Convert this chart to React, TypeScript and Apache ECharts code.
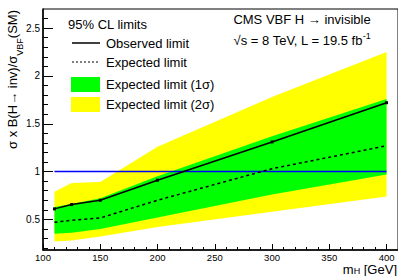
import React, { useEffect, useRef } from 'react';
import * as echarts from 'echarts';

const masses = [110, 125, 150, 200, 300, 400];
const observed = [0.61, 0.655, 0.7, 0.91, 1.31, 1.72];
const expected = [0.47, 0.49, 0.515, 0.7, 1.03, 1.27];
const band1Low = [0.35, 0.36, 0.4, 0.52, 0.76, 0.97];
const band1High = [0.63, 0.66, 0.72, 0.95, 1.37, 1.76];
const band2Low = [0.27, 0.28, 0.32, 0.42, 0.58, 0.74];
const band2High = [0.79, 0.88, 0.89, 1.26, 1.78, 2.25];
const refX = [110, 400];
const refY = [1, 1];

const xMajorTicks = [100, 150, 200, 250, 300, 350, 400];
const xMinorTicks = [110, 120, 130, 140, 160, 170, 180, 190, 210, 220, 230, 240, 260, 270, 280, 290, 310, 320, 330, 340, 360, 370, 380, 390, 410];
const yMajorTicks = [0.5, 1, 1.5, 2, 2.5];
const yMinorTicks = [0.2, 0.3, 0.4, 0.6, 0.7, 0.8, 0.9, 1.1, 1.2, 1.3, 1.4, 1.6, 1.7, 1.8, 1.9, 2.1, 2.2, 2.3, 2.4, 2.6];

const FONT = '"Liberation Sans", Arial, sans-serif';

const pairs = (xs: number[], ys: number[]) => xs.map((x, i) => [x, ys[i]]);

const bandSeries = (name: string, lo: number[], hi: number[], color: string) => ({
  name,
  type: 'custom',
  data: masses.map((m, i) => [m, lo[i], hi[i]]),
  encode: { x: 0, y: [1, 2] },
  silent: true,
  renderItem: (params: any, api: any) => {
    if (params.dataIndex !== 0) return null;
    const top = masses.map((m, i) => api.coord([m, hi[i]]));
    const bot = masses.map((m, i) => api.coord([m, lo[i]])).reverse();
    return {
      type: 'polygon',
      shape: { points: top.concat(bot) },
      style: { fill: color, stroke: 'none' },
    };
  },
});

export default function App() {
  const ref = useRef<HTMLDivElement>(null);
  useEffect(() => {
    document.body.style.margin = '0';
    const chart = echarts.init(ref.current!, null, { renderer: 'svg' });
    chart.setOption({
      animation: false,
      textStyle: { fontFamily: FONT },
      grid: {
        left: 43,
        top: 9,
        width: 356,
        height: 241,
        show: true,
        borderColor: '#000',
        borderWidth: 1,
        backgroundColor: 'transparent',
      },
      xAxis: [
        {
          type: 'value',
          min: 100,
          max: 410,
          interval: 50,
          axisLine: { show: true, onZero: false, lineStyle: { color: '#000', width: 1.5 } },
          axisTick: { show: true, inside: true, length: 6, customValues: xMajorTicks, lineStyle: { color: '#000', width: 1 } },
          axisLabel: { customValues: xMajorTicks, color: '#000', fontSize: 9.5, fontFamily: FONT, margin: 2, lineHeight: 10 },
          splitLine: { show: false },
        },
        {
          type: 'value',
          min: 100,
          max: 410,
          position: 'bottom',
          axisLine: { show: false },
          axisTick: { show: true, inside: true, length: 3, customValues: xMinorTicks, lineStyle: { color: '#000', width: 1 } },
          axisLabel: { show: false },
          splitLine: { show: false },
        },
      ],
      yAxis: [
        {
          type: 'value',
          min: 0.18,
          max: 2.7,
          axisLine: { show: true, onZero: false, lineStyle: { color: '#000', width: 1.5 } },
          axisTick: { show: true, inside: true, length: 10, customValues: yMajorTicks, lineStyle: { color: '#000', width: 1 } },
          axisLabel: { customValues: yMajorTicks, color: '#000', fontSize: 10, fontFamily: FONT, margin: 3 },
          splitLine: { show: false },
        },
        {
          type: 'value',
          min: 0.18,
          max: 2.7,
          position: 'left',
          axisLine: { show: false },
          axisTick: { show: true, inside: true, length: 5, customValues: yMinorTicks, lineStyle: { color: '#000', width: 1 } },
          axisLabel: { show: false },
          splitLine: { show: false },
        },
      ],
      series: [
        bandSeries('Expected limit (2σ)', band2Low, band2High, '#ffff00'),
        bandSeries('Expected limit (1σ)', band1Low, band1High, '#00ff00'),
        {
          name: 'SM',
          type: 'line',
          data: pairs(refX, refY),
          symbol: 'none',
          lineStyle: { color: '#0000ff', width: 1.5 },
          silent: true,
        },
        {
          name: 'Expected limit',
          type: 'line',
          data: pairs(masses, expected),
          symbol: 'none',
          lineStyle: { color: '#000', width: 1.5, type: [3, 3] },
          silent: true,
        },
        {
          name: 'Observed limit',
          type: 'line',
          data: pairs(masses, observed),
          symbol: 'rect',
          symbolSize: 3,
          itemStyle: { color: '#000' },
          lineStyle: { color: '#000', width: 1.5 },
          silent: true,
        },
      ],
      graphic: [
        {
          type: 'text',
          x: 14,
          y: 10,
          rotation: Math.PI / 2,
          style: {
            text: '{n|σ x B(H→ inv)/σ}{s|VBF}{n|(SM)}',
            align: 'right',
            verticalAlign: 'middle',
            fill: '#000',
            fontFamily: FONT,
            rich: {
              n: { fontSize: 13, fontFamily: FONT, lineHeight: 16, verticalAlign: 'top', fill: '#000' },
              s: { fontSize: 9, fontFamily: FONT, lineHeight: 9, verticalAlign: 'top', padding: [9, 0, 0, 0], fill: '#000' },
            },
          },
        },
        {
          type: 'text',
          x: 397,
          y: 268.5,
          style: {
            text: '{n|m}{s|H}{n| [GeV]}',
            align: 'right',
            verticalAlign: 'middle',
            fill: '#000',
            fontFamily: FONT,
            rich: {
              n: { fontSize: 13, fontFamily: FONT, lineHeight: 12, verticalAlign: 'top', fill: '#000' },
              s: { fontSize: 9, fontFamily: FONT, lineHeight: 8, verticalAlign: 'top', padding: [4, 0, 0, 0], fill: '#000' },
            },
          },
        },
        {
          type: 'text',
          x: 302,
          y: 19,
          style: { text: 'CMS VBF H → invisible', align: 'center', verticalAlign: 'middle', fill: '#000', font: `13px ${FONT}` },
        },
        {
          type: 'text',
          x: 302,
          y: 39,
          style: {
            text: '{n|√s = 8 TeV, L = 19.5 fb}{p|-1}',
            align: 'center',
            verticalAlign: 'middle',
            fill: '#000',
            fontFamily: FONT,
            rich: {
              n: { fontSize: 13, fontFamily: FONT, lineHeight: 16, verticalAlign: 'bottom', fill: '#000' },
              p: { fontSize: 9, fontFamily: FONT, lineHeight: 9, verticalAlign: 'top', fill: '#000' },
            },
          },
        },
        {
          type: 'text',
          x: 68,
          y: 24,
          style: { text: '95% CL limits', verticalAlign: 'middle', fill: '#000', font: `13px ${FONT}` },
        },
        {
          type: 'line',
          shape: { x1: 72, y1: 43, x2: 100, y2: 43 },
          style: { stroke: '#000', lineWidth: 1.5 },
        },
        {
          type: 'text',
          x: 106,
          y: 43,
          style: { text: 'Observed limit', verticalAlign: 'middle', fill: '#000', font: `13px ${FONT}` },
        },
        {
          type: 'line',
          shape: { x1: 72, y1: 62, x2: 100, y2: 62 },
          style: { stroke: '#000', lineWidth: 1, lineDash: [2, 2] },
        },
        {
          type: 'text',
          x: 106,
          y: 62,
          style: { text: 'Expected limit', verticalAlign: 'middle', fill: '#000', font: `13px ${FONT}` },
        },
        {
          type: 'rect',
          shape: { x: 71, y: 77, width: 29, height: 15 },
          style: { fill: '#00ff00' },
        },
        {
          type: 'text',
          x: 106,
          y: 84,
          style: { text: 'Expected limit (1σ)', verticalAlign: 'middle', fill: '#000', font: `13px ${FONT}` },
        },
        {
          type: 'rect',
          shape: { x: 71, y: 97, width: 29, height: 15 },
          style: { fill: '#ffff00' },
        },
        {
          type: 'text',
          x: 106,
          y: 104,
          style: { text: 'Expected limit (2σ)', verticalAlign: 'middle', fill: '#000', font: `13px ${FONT}` },
        },
      ],
    });
    return () => chart.dispose();
  }, []);
  return <div ref={ref} style={{ width: 398, height: 276 }} />;
}
